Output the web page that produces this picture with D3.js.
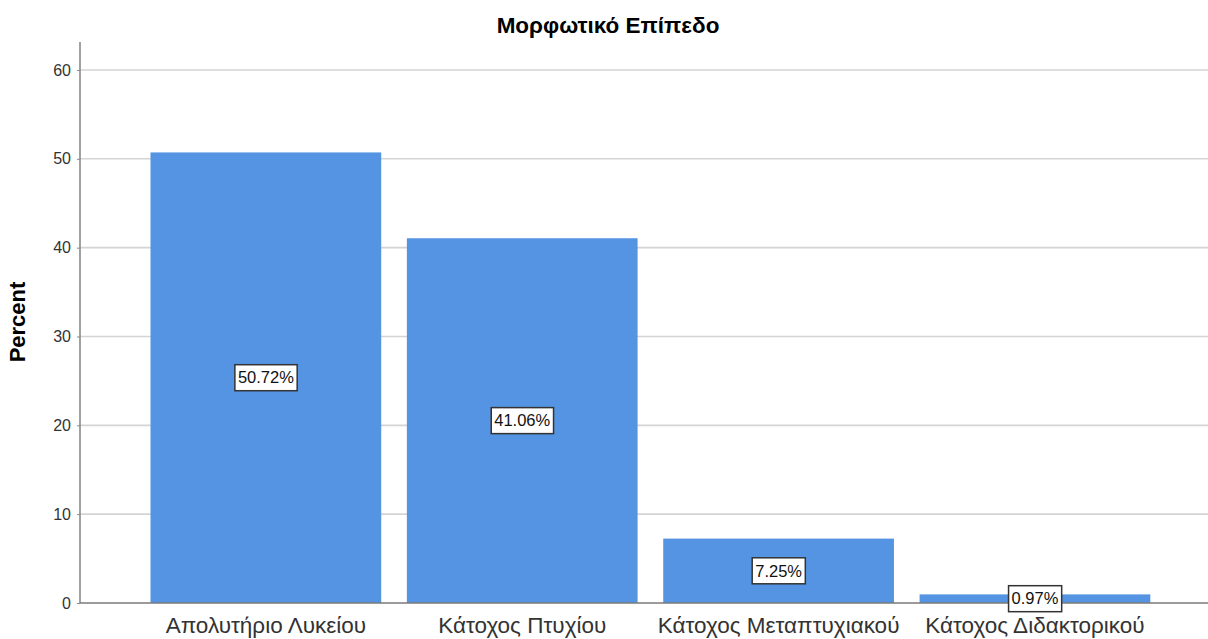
<!DOCTYPE html>
<html>
<head>
<meta charset="utf-8">
<script src="https://cdn.jsdelivr.net/npm/d3@7"></script>
<style>
  html, body { margin: 0; padding: 0; background: #fff; }
  svg { display: block; font-family: "Liberation Sans", Arial, sans-serif; }
</style>
</head>
<body>
<svg id="chart" width="1208" height="639"></svg>
<script>
// Education level distribution (percent of respondents)
const categories = ["Απολυτήριο Λυκείου", "Κάτοχος Πτυχίου", "Κάτοχος Μεταπτυχιακού", "Κάτοχος Διδακτορικού"];
const percents = [50.72, 41.06, 7.25, 0.97];
const yTicks = [0, 10, 20, 30, 40, 50, 60];
const chartTitle = "Μορφωτικό Επίπεδο";
const yTitle = "Percent";

const plot = { left: 80, right: 1208, top: 42, bottom: 603 };

const svg = d3.select("#chart");

const x = d3.scaleBand()
  .domain(categories)
  .range([plot.left, plot.right])
  .paddingInner(0.1)
  .paddingOuter(0.25)
  .align(0.55);

const y = d3.scaleLinear()
  .domain([0, 63.15])
  .range([plot.bottom, plot.top]);

// horizontal gridlines
svg.append("g")
  .selectAll("line")
  .data(yTicks.filter(d => d > 0))
  .join("line")
  .attr("x1", plot.left)
  .attr("x2", plot.right)
  .attr("y1", d => y(d))
  .attr("y2", d => y(d))
  .attr("stroke", "#d4d4d4")
  .attr("stroke-width", 1.6);

// bars
svg.append("g")
  .selectAll("rect")
  .data(percents)
  .join("rect")
  .attr("x", (d, i) => x(categories[i]))
  .attr("width", x.bandwidth())
  .attr("y", d => y(d))
  .attr("height", d => y(0) - y(d))
  .attr("fill", "#5594e3");

// y axis
const yAxis = d3.axisLeft(y).tickValues(yTicks).tickSize(3).tickPadding(6).tickFormat(d3.format("d"));
const gy = svg.append("g")
  .attr("transform", `translate(${plot.left},0)`)
  .call(yAxis);
gy.select(".domain").attr("stroke", "#8a8a8a").attr("stroke-width", 1.6)
  .attr("d", `M0,${plot.top}V${plot.bottom}`);
gy.selectAll(".tick line").attr("stroke", "#8a8a8a");
gy.selectAll(".tick text")
  .attr("font-size", 16)
  .attr("fill", "#333")
  .attr("font-family", "Liberation Sans, Arial, sans-serif");

// x baseline
svg.append("line")
  .attr("x1", plot.left)
  .attr("x2", plot.right)
  .attr("y1", y(0))
  .attr("y2", y(0))
  .attr("stroke", "#7a7a7a")
  .attr("stroke-width", 1.6);

// x axis labels
const xAxis = d3.axisBottom(x).tickSize(0).tickPadding(14);
const gx = svg.append("g")
  .attr("transform", `translate(0,${plot.bottom})`)
  .call(xAxis);
gx.select(".domain").remove();
gx.selectAll(".tick text")
  .attr("font-size", 22.5)
  .attr("fill", "#333")
  .attr("font-family", "Liberation Sans, Arial, sans-serif");

// value labels in boxes at the bar midpoint
const lab = svg.append("g")
  .selectAll("g")
  .data(percents)
  .join("g")
  .attr("transform", (d, i) => `translate(${x(categories[i]) + x.bandwidth() / 2},${y(d / 2)})`);

lab.append("text")
  .attr("text-anchor", "middle")
  .attr("dy", "0.35em")
  .attr("font-size", 16.5)
  .attr("fill", "#111")
  .text(d => d.toFixed(2) + "%")
  .each(function () {
    const bb = this.getBBox();
    d3.select(this.parentNode).insert("rect", "text")
      .attr("x", bb.x - 3)
      .attr("y", -13)
      .attr("width", bb.width + 6)
      .attr("height", 26)
      .attr("fill", "#fff")
      .attr("stroke", "#333")
      .attr("stroke-width", 1.5);
  });

// chart title
svg.append("text")
  .attr("x", 608)
  .attr("y", 33)
  .attr("text-anchor", "middle")
  .attr("font-size", 22.5)
  .attr("font-weight", "bold")
  .attr("fill", "#000")
  .text(chartTitle);

// y axis title
svg.append("text")
  .attr("transform", `translate(25,322) rotate(-90)`)
  .attr("text-anchor", "middle")
  .attr("font-size", 22)
  .attr("font-weight", "bold")
  .attr("fill", "#000")
  .text(yTitle);
</script>
</body>
</html>
